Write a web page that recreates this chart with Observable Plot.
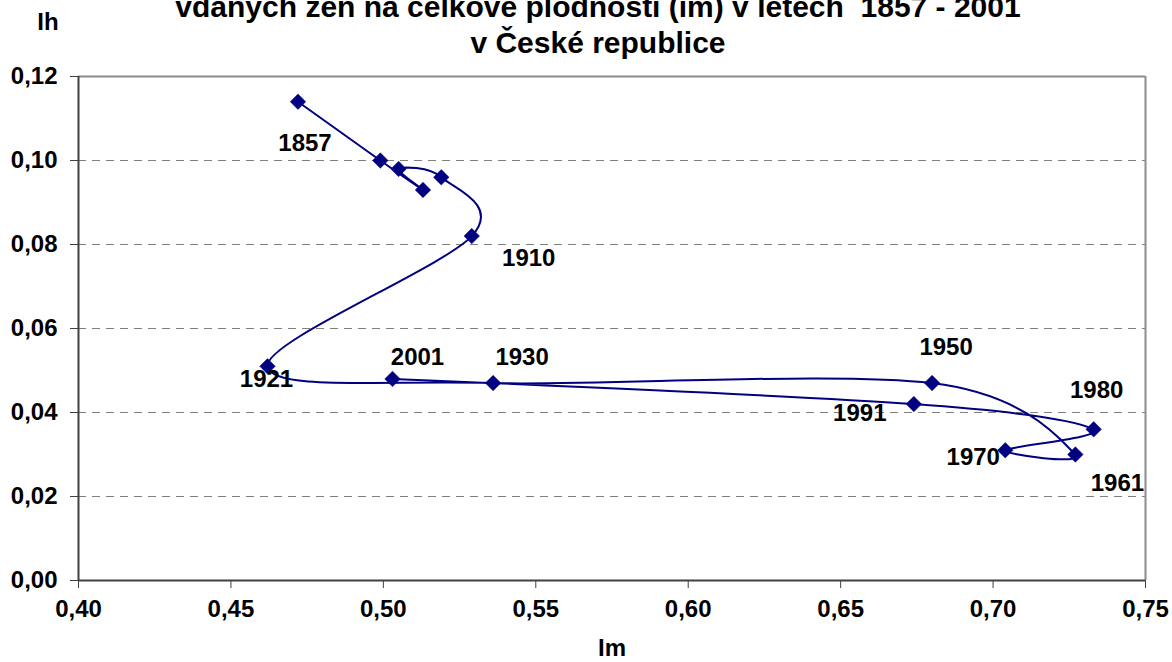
<!DOCTYPE html>
<html>
<head>
<meta charset="utf-8">
<script src="https://cdn.jsdelivr.net/npm/d3@7"></script>
<script src="https://cdn.jsdelivr.net/npm/@observablehq/plot@0.6"></script>
<style>
  html, body { margin: 0; padding: 0; background: #fff; }
  #wrap { position: relative; width: 1172px; height: 662px; overflow: hidden; font-family: "Liberation Sans", Arial, sans-serif; font-weight: bold; color: #000; }
  #title { position: absolute; left: 0; width: 1196px; top: -11px; text-align: center; font-size: 30px; line-height: 36px; white-space: pre; }
  .axlab { position: absolute; font-size: 24px; line-height: 28px; transform: translateX(-50%); }
</style>
</head>
<body>
<div id="wrap">
  <div id="chart"></div>
  <div id="title">vdaných žen na celkové plodnosti (im) v letech  1857 - 2001
v České republice</div>
  <div class="axlab" style="left:48px; top:8px;">Ih</div>
  <div class="axlab" style="left:612px; top:634px;">Im</div>
</div>
<script>
// Census years and index values
const years = [1857, 1869, 1880, 1890, 1900, 1910, 1921, 1930, 1950, 1961, 1970, 1980, 1991, 2001];
const im = [0.472, 0.499, 0.513, 0.505, 0.519, 0.529, 0.462, 0.536, 0.680, 0.727, 0.704, 0.733, 0.674, 0.503];
const ih = [0.114, 0.100, 0.093, 0.098, 0.096, 0.082, 0.051, 0.047, 0.047, 0.030, 0.031, 0.036, 0.042, 0.048];
const labeledYears = [1857, 1910, 1921, 1930, 1950, 1961, 1970, 1980, 1991, 2001];
const xTicks = [0.40, 0.45, 0.50, 0.55, 0.60, 0.65, 0.70, 0.75];
const yTicks = [0.00, 0.02, 0.04, 0.06, 0.08, 0.10, 0.12];
const yGrid = [0.02, 0.04, 0.06, 0.08, 0.10];

const data = years.map((year, i) => ({year, im: im[i], ih: ih[i]}));

// label placement offsets (style)
const labelOffsets = {
  1857: [7, 42], 1910: [57, 22], 1921: [-1, 13], 2001: [25, -22], 1930: [29, -26],
  1950: [14, -36], 1980: [3, -39], 1991: [-54, 9], 1970: [-32, 7], 1961: [42, 29]
};

const fmt = d => d3.format(".2f")(d).replace(".", ",");
const navy = "#000080";

const labelMarks = labeledYears.map(yr => Plot.text(data.filter(d => d.year === yr), {
  x: "im", y: "ih", text: d => String(d.year),
  dx: labelOffsets[yr][0], dy: labelOffsets[yr][1],
  fill: "black", fontSize: 24, fontWeight: "bold"
}));

const chart = Plot.plot({
  width: 1172,
  height: 662,
  marginLeft: 78,
  marginRight: 27,
  marginTop: 76,
  marginBottom: 82,
  style: {fontFamily: "'Liberation Sans', Arial, sans-serif", fontSize: "24px", fontWeight: "bold", background: "white", color: "black"},
  x: {domain: [0.40, 0.75]},
  y: {domain: [0, 0.12]},
  marks: [
    Plot.gridY(yGrid, {stroke: "#808080", strokeOpacity: 1, strokeWidth: 1, strokeDasharray: "8,6"}),
    Plot.ruleY([0.12], {stroke: "#8c8c8c", strokeWidth: 2}),
    Plot.ruleX([0.75], {stroke: "#8c8c8c", strokeWidth: 2}),
    Plot.axisY(yTicks, {tickSize: 8, tickPadding: 13, tickFormat: fmt, label: null, stroke: "#404040", fill: "black", fontSize: 24, fontWeight: "bold"}),
    Plot.axisX(xTicks, {tickSize: 8, tickPadding: 11, tickFormat: fmt, label: null, stroke: "#404040", fill: "black", fontSize: 24, fontWeight: "bold"}),
    Plot.ruleX([0.40], {stroke: "#404040", strokeWidth: 2}),
    Plot.ruleY([0], {stroke: "#404040", strokeWidth: 2}),
    Plot.line(data, {x: "im", y: "ih", stroke: navy, strokeWidth: 2, curve: d3.curveCardinal.tension(0)}),
    Plot.dot(data, {x: "im", y: "ih", symbol: "diamond2", r: 7, fill: navy, stroke: navy, strokeWidth: 0.5}),
    ...labelMarks
  ]
});
document.getElementById("chart").appendChild(chart);
</script>
</body>
</html>
